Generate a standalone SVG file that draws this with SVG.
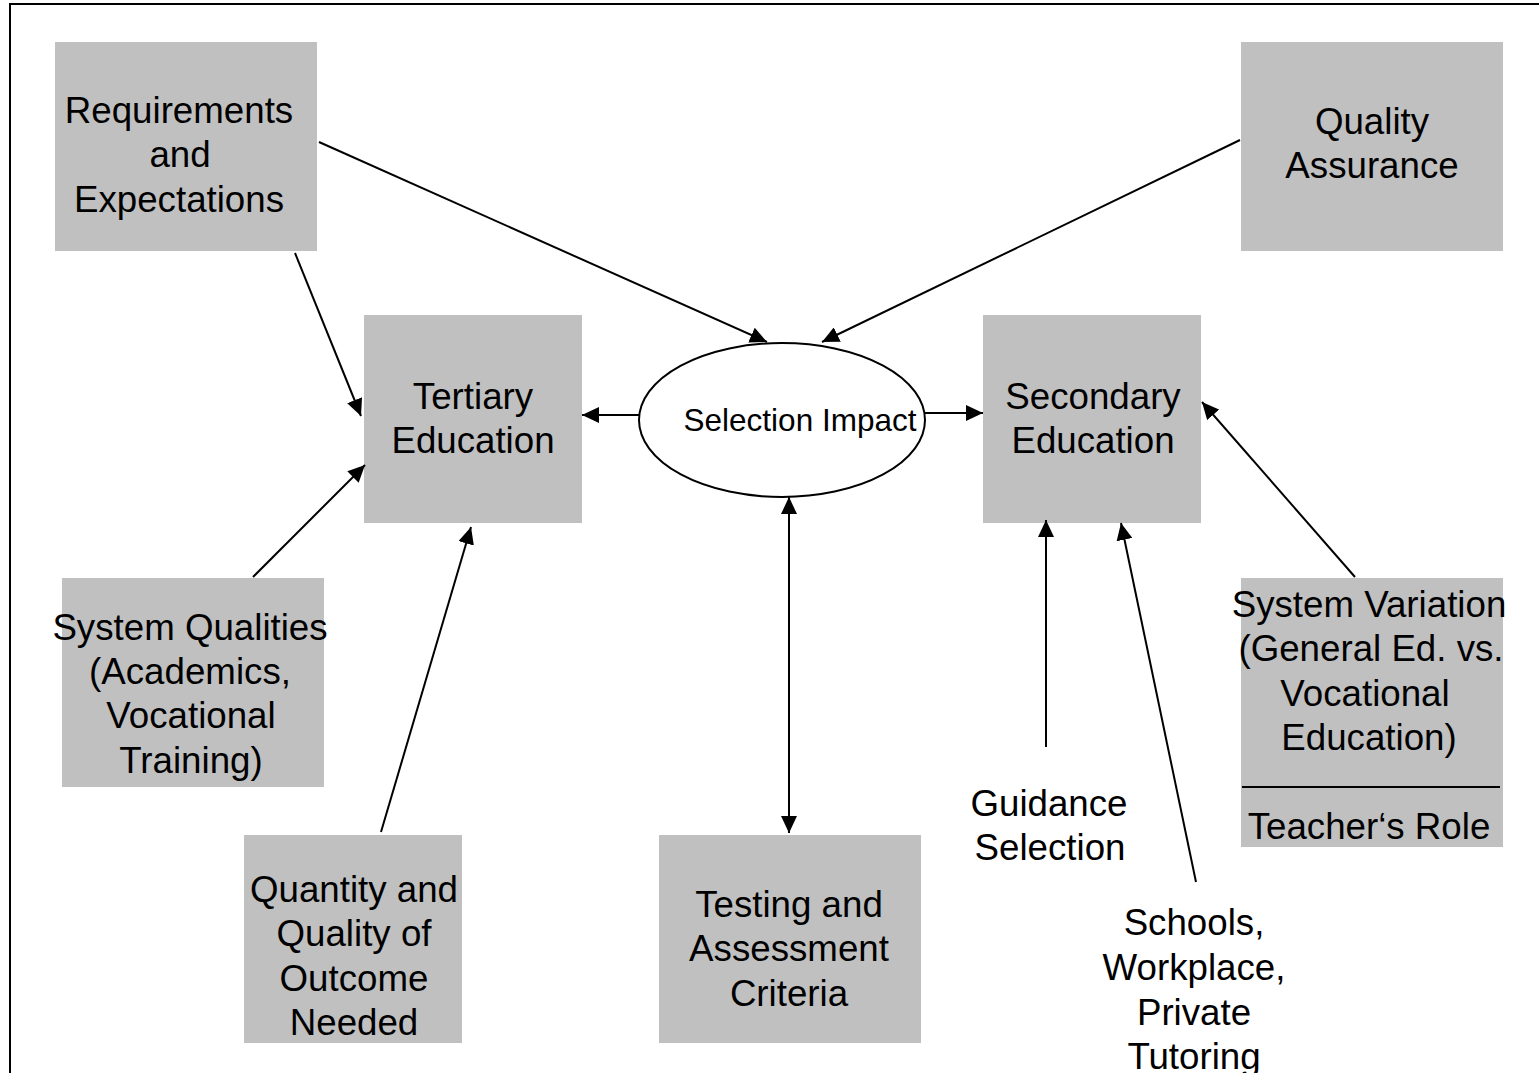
<svg xmlns="http://www.w3.org/2000/svg" width="1539" height="1073" viewBox="0 0 1539 1073">
  <style>
    .box { fill: #C0C0C0; stroke: none; }
    .lbl { font-family: "Liberation Sans", Arial, sans-serif; font-size: 36.7px; fill: #000; text-anchor: middle; }
    .small { font-size: 31.5px; }
    .conn { stroke: #000; stroke-width: 2; fill: none; }
  </style>
  <defs>
    <marker id="arrow" markerUnits="userSpaceOnUse" markerWidth="18" markerHeight="16" refX="17" refY="8" orient="auto-start-reverse">
      <path d="M0,0 L17,8 L0,16 Z" fill="#000"/>
    </marker>
  </defs>

  <rect x="0" y="0" width="1539" height="1073" fill="#fff"/>
  <!-- outer frame -->
  <rect x="10" y="4" width="1545" height="1090" fill="none" stroke="#000" stroke-width="2"/>

  <g id="requirements">
    <rect class="box" x="55" y="42" width="262" height="209"/>
    <text class="lbl" x="179" y="123">Requirements</text>
    <text class="lbl" x="180" y="167">and</text>
    <text class="lbl" x="179" y="212">Expectations</text>
  </g>

  <g id="quality-assurance">
    <rect class="box" x="1241" y="42" width="262" height="209"/>
    <text class="lbl" x="1372" y="134">Quality</text>
    <text class="lbl" x="1372" y="178">Assurance</text>
  </g>

  <g id="tertiary">
    <rect class="box" x="364" y="315" width="218" height="208"/>
    <text class="lbl" x="473" y="409">Tertiary</text>
    <text class="lbl" x="473" y="453">Education</text>
  </g>

  <g id="secondary">
    <rect class="box" x="983" y="315" width="218" height="208"/>
    <text class="lbl" x="1093" y="409">Secondary</text>
    <text class="lbl" x="1093" y="453">Education</text>
  </g>

  <g id="selection-impact">
    <ellipse cx="782" cy="420" rx="143" ry="77" fill="#fff" stroke="#000" stroke-width="2"/>
    <text class="lbl small" x="800" y="431">Selection Impact</text>
  </g>

  <g id="system-qualities">
    <rect class="box" x="62" y="578" width="262" height="209"/>
    <text class="lbl" x="190" y="640">System Qualities</text>
    <text class="lbl" x="190" y="684">(Academics,</text>
    <text class="lbl" x="191" y="728">Vocational</text>
    <text class="lbl" x="191" y="773">Training)</text>
  </g>

  <g id="quantity-quality">
    <rect class="box" x="244" y="835" width="218" height="208"/>
    <text class="lbl" x="354" y="902">Quantity and</text>
    <text class="lbl" x="354" y="946">Quality of</text>
    <text class="lbl" x="354" y="991">Outcome</text>
    <text class="lbl" x="354" y="1035">Needed</text>
  </g>

  <g id="testing">
    <rect class="box" x="659" y="835" width="262" height="208"/>
    <text class="lbl" x="789" y="917">Testing and</text>
    <text class="lbl" x="789" y="961">Assessment</text>
    <text class="lbl" x="789" y="1006">Criteria</text>
  </g>

  <g id="system-variation">
    <rect class="box" x="1241" y="578" width="262" height="269"/>
    <text class="lbl" x="1369" y="617">System Variation</text>
    <text class="lbl" x="1371" y="661">(General Ed. vs.</text>
    <text class="lbl" x="1365" y="706">Vocational</text>
    <text class="lbl" x="1369" y="750">Education)</text>
    <line x1="1242" y1="787" x2="1500" y2="787" stroke="#000" stroke-width="2"/>
    <text class="lbl" x="1369" y="839">Teacher‘s Role</text>
  </g>

  <g id="guidance">
    <text class="lbl" x="1049" y="816">Guidance</text>
    <text class="lbl" x="1050" y="860">Selection</text>
  </g>

  <g id="schools">
    <text class="lbl" x="1194" y="935">Schools,</text>
    <text class="lbl" x="1194" y="980">Workplace,</text>
    <text class="lbl" x="1194" y="1025">Private</text>
    <text class="lbl" x="1194" y="1069">Tutoring</text>
  </g>

  <g id="connectors">
    <line class="conn" x1="319" y1="142" x2="767" y2="342" marker-end="url(#arrow)"/>
    <line class="conn" x1="1240" y1="140" x2="822" y2="342" marker-end="url(#arrow)"/>
    <line class="conn" x1="295" y1="253" x2="361" y2="416" marker-end="url(#arrow)"/>
    <line class="conn" x1="253" y1="577" x2="365" y2="465" marker-end="url(#arrow)"/>
    <line class="conn" x1="381" y1="832" x2="471" y2="527" marker-end="url(#arrow)"/>
    <line class="conn" x1="639" y1="415" x2="582" y2="415" marker-end="url(#arrow)"/>
    <line class="conn" x1="925" y1="413" x2="983" y2="413" marker-end="url(#arrow)"/>
    <line class="conn" x1="789" y1="497" x2="789" y2="833" marker-start="url(#arrow)" marker-end="url(#arrow)"/>
    <line class="conn" x1="1046" y1="747" x2="1046" y2="520" marker-end="url(#arrow)"/>
    <line class="conn" x1="1196" y1="882" x2="1121" y2="523" marker-end="url(#arrow)"/>
    <line class="conn" x1="1355" y1="577" x2="1202" y2="402" marker-end="url(#arrow)"/>
  </g>
</svg>
